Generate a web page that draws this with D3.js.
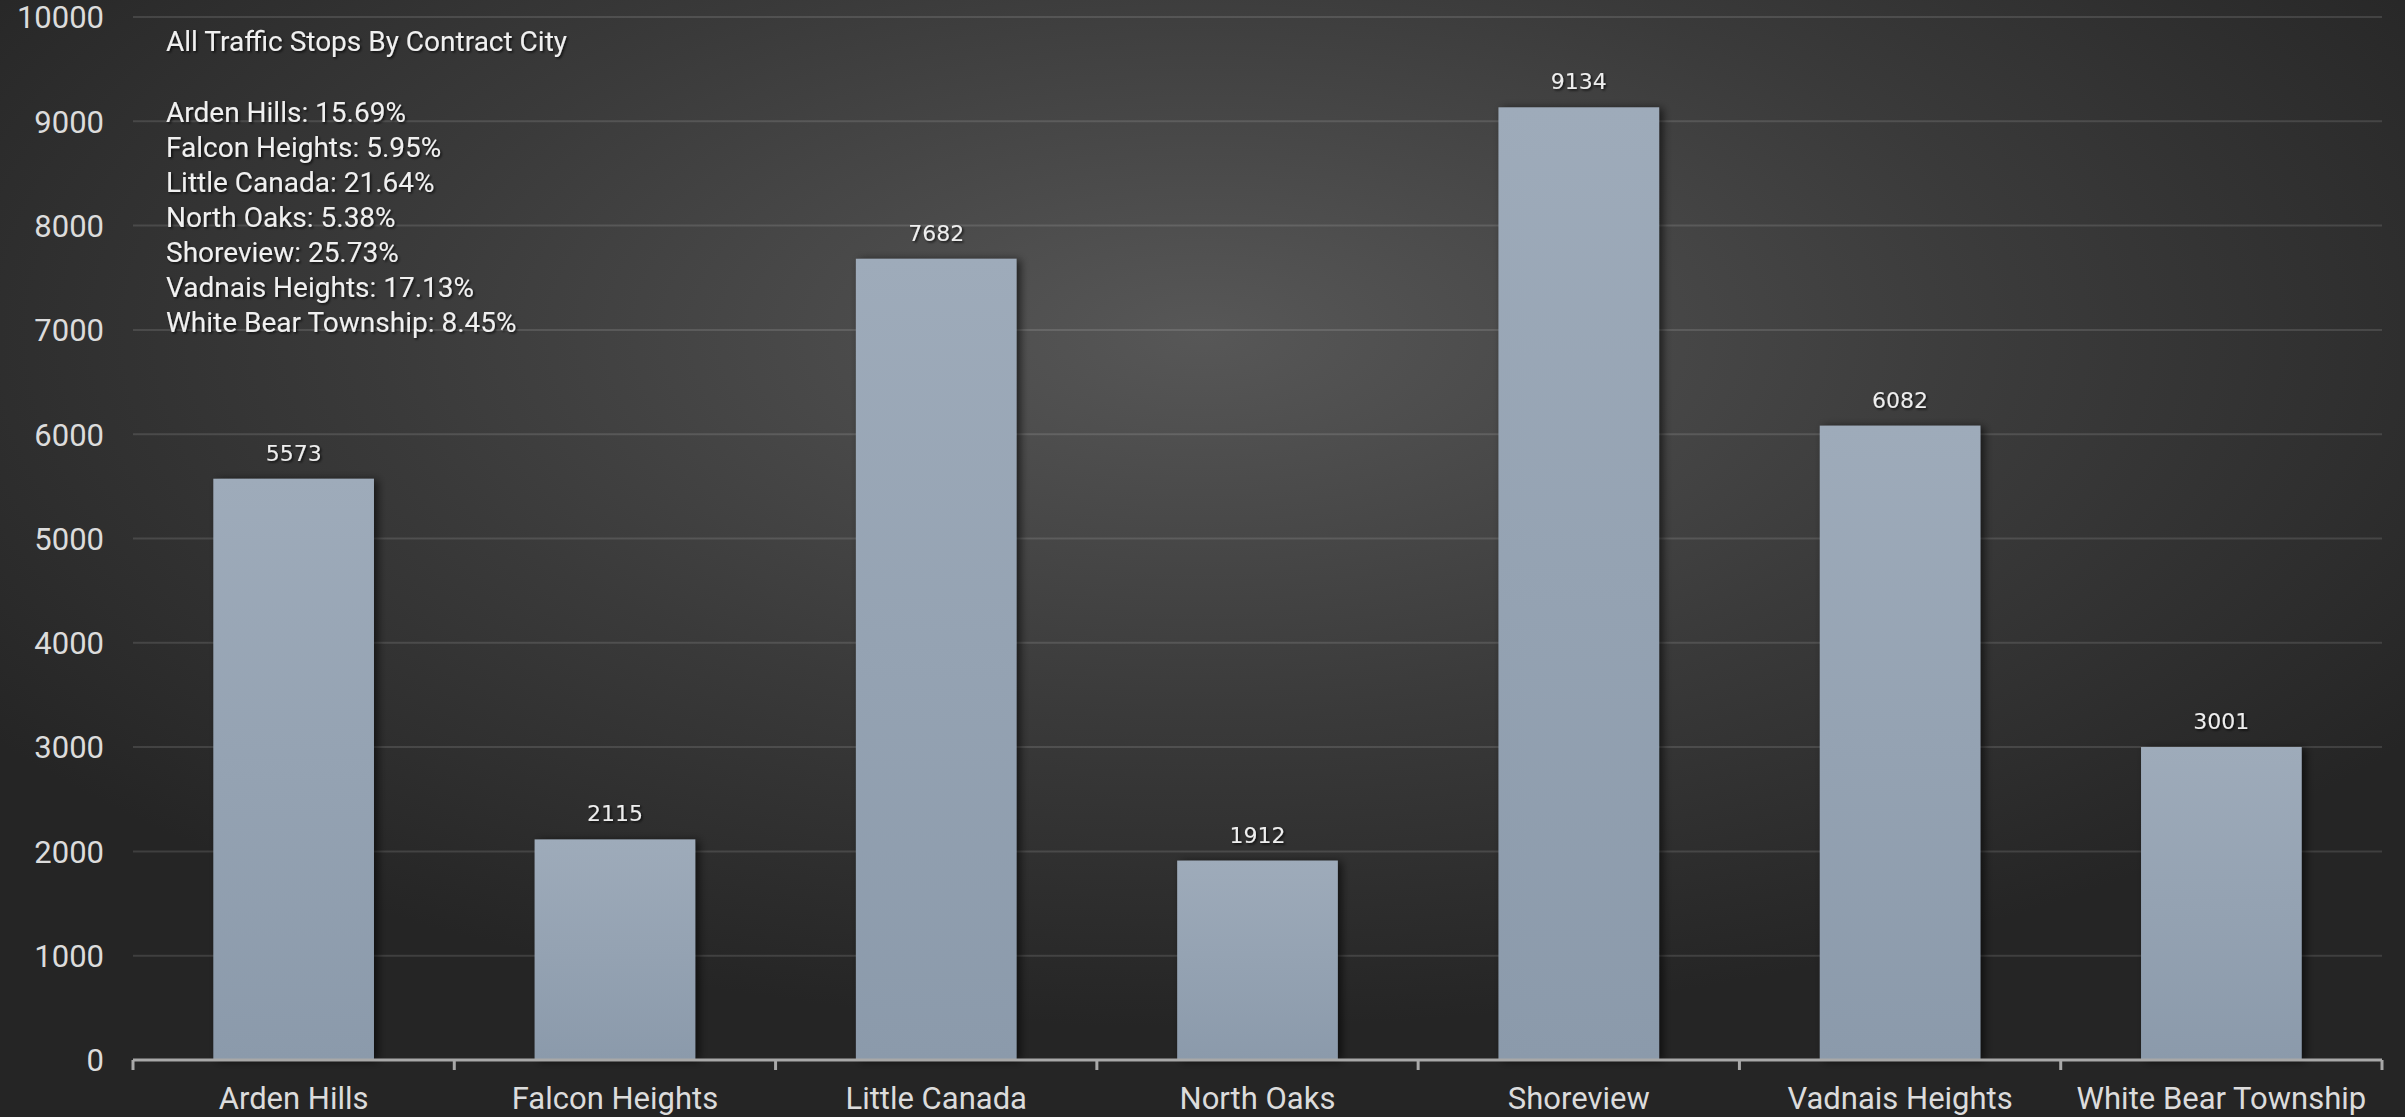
<!DOCTYPE html>
<html><head><meta charset="utf-8">
<script src="https://cdn.jsdelivr.net/npm/d3@7"></script>
<style>
html,body{margin:0;padding:0;background:#262626;}
svg{display:block;}
</style></head>
<body>
<svg id="chart" width="2405" height="1117"></svg>
<script>
const categories = ["Arden Hills","Falcon Heights","Little Canada","North Oaks","Shoreview","Vadnais Heights","White Bear Township"];
const stops = [5573,2115,7682,1912,9134,6082,3001];
const percents = ["15.69%","5.95%","21.64%","5.38%","25.73%","17.13%","8.45%"];
const yTicks = [0,1000,2000,3000,4000,5000,6000,7000,8000,9000,10000];
const titleText = "All Traffic Stops By Contract City";

const W = 2405, H = 1117;
const margin = {top:17, right:23, bottom:57, left:133};
const FONT = "'Liberation Sans Narrow','Arial Narrow','Roboto',sans-serif";

const svg = d3.select("#chart");
const defs = svg.append("defs");

const bg = defs.append("radialGradient").attr("id","bg")
  .attr("cx","0.5").attr("cy","0.3").attr("r","0.62").attr("fx","0.5").attr("fy","0.3");
bg.append("stop").attr("offset","0%").attr("stop-color","#575757");
bg.append("stop").attr("offset","55%").attr("stop-color","#3a3a3a");
bg.append("stop").attr("offset","100%").attr("stop-color","#252525");

const barG = defs.append("linearGradient").attr("id","barg").attr("x1",0).attr("y1",0).attr("x2",0).attr("y2",1);
barG.append("stop").attr("offset","0%").attr("stop-color","#9eabba");
barG.append("stop").attr("offset","100%").attr("stop-color","#8b9aab");

const sh = defs.append("filter").attr("id","shadow").attr("x","-20%").attr("y","-20%").attr("width","150%").attr("height","140%");
sh.append("feDropShadow").attr("dx",4).attr("dy",1).attr("stdDeviation",4).attr("flood-color","#000").attr("flood-opacity",0.6);

const tsh = defs.append("filter").attr("id","tshadow").attr("x","-10%").attr("y","-30%").attr("width","120%").attr("height","160%");
tsh.append("feDropShadow").attr("dx",1.5).attr("dy",1.5).attr("stdDeviation",1).attr("flood-color","#000").attr("flood-opacity",0.7);

svg.append("rect").attr("width",W).attr("height",H).attr("fill","url(#bg)");

const x = d3.scaleBand().domain(categories).range([margin.left, W - margin.right]).paddingInner(0.5).paddingOuter(0.25);
const y = d3.scaleLinear().domain([0,10000]).range([H - margin.bottom, margin.top]);

// gridlines
svg.append("g").selectAll("line").data(yTicks.filter(d=>d>0)).join("line")
  .attr("x1", margin.left).attr("x2", W - margin.right)
  .attr("y1", d=>y(d)).attr("y2", d=>y(d))
  .attr("stroke","rgba(255,255,255,0.12)").attr("stroke-width",2);

// y axis labels
const yAxis = d3.axisLeft(y).tickValues(yTicks).tickSize(0).tickPadding(0).tickFormat(d3.format("d"));
const gy = svg.append("g").attr("transform",`translate(${104},0)`).call(yAxis);
gy.select(".domain").remove();
gy.selectAll("text").attr("font-family",FONT).attr("font-size",31).attr("fill","#dcdcdc").attr("dy","0.35em").attr("x",0);

// bars
svg.append("g").selectAll("rect").data(stops).join("rect")
  .attr("x",(d,i)=>x(categories[i])).attr("width",x.bandwidth())
  .attr("y",d=>y(d)).attr("height",d=>y(0)-y(d))
  .attr("fill","url(#barg)").attr("filter","url(#shadow)");

// value labels
svg.append("g").selectAll("text").data(stops).join("text")
  .attr("x",(d,i)=>x(categories[i]) + x.bandwidth()/2)
  .attr("y",d=>y(d) - 18)
  .attr("text-anchor","middle")
  .attr("font-family","'DejaVu Sans',sans-serif").attr("font-size",22)
  .attr("fill","#eeeeee").attr("filter","url(#tshadow)")
  .text(d=>d);

// x axis
const xAxis = d3.axisBottom(x).tickSize(0).tickPadding(0);
const gx = svg.append("g").attr("transform",`translate(0,${y(0)})`).call(xAxis);
gx.select(".domain").attr("stroke","#a8a8a8").attr("stroke-width",3).attr("d",`M${margin.left},0H${W-margin.right}`);
gx.selectAll("text").attr("font-family",FONT).attr("font-size",31).attr("fill","#dcdcdc").attr("y",38).attr("dy","0.35em");
// category boundary ticks
const bounds = categories.map(c=>x(c) - x.step()*x.paddingInner()/2 - (x.bandwidth()*0)).concat([W - margin.right]);
const step = x.step();
const edges = d3.range(categories.length+1).map(i=> margin.left + i*(W - margin.right - margin.left)/categories.length);
gx.append("g").selectAll("line").data(edges).join("line")
  .attr("x1",d=>d).attr("x2",d=>d).attr("y1",0).attr("y2",10)
  .attr("stroke","#a8a8a8").attr("stroke-width",3);

// title block
const tg = svg.append("g").attr("filter","url(#tshadow)")
  .attr("font-family",FONT).attr("font-size",28).attr("fill","#f0f0f0");
tg.append("text").attr("x",166).attr("y",51).text(titleText);
tg.selectAll("text.p").data(categories).join("text").attr("class","p")
  .attr("x",166).attr("y",(d,i)=>122 + i*35)
  .text((d,i)=>`${d}: ${percents[i]}`);
</script>
</body></html>
